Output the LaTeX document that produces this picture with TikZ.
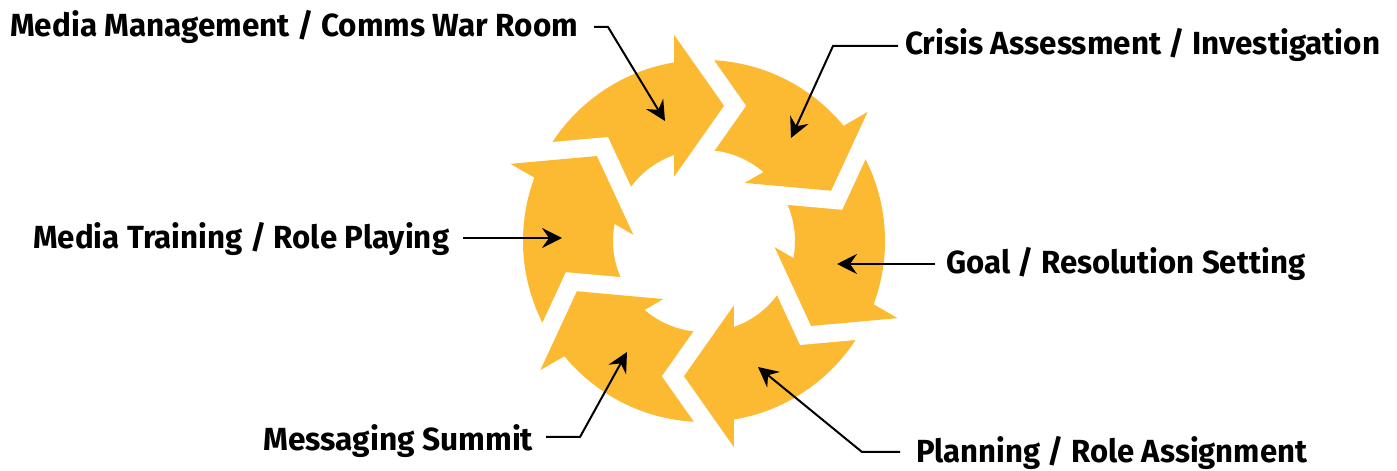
\documentclass[tikz,border=0pt]{standalone}
\usepackage{fontspec}
\setmainfont{Fira Sans}
\usetikzlibrary{calc,arrows.meta}
\definecolor{yc}{RGB}{251,186,50}
\newcommand\fitw[2]{\resizebox{#1pt}{\height}{#2}}
\begin{document}
\begin{tikzpicture}[x=1pt,y=1pt,
  lbl/.style={inner sep=0pt, font=\fontsize{32}{36}\selectfont\bfseries},
  lead/.style={line width=2pt, -{Stealth[length=20pt,width=20pt,inset=7pt]}}]
\useasboundingbox (0,0) rectangle (1397,471);
\coordinate (O) at (704,230);
\fill[yc, even odd rule] (O) circle[radius=181pt] (O) circle[radius=91pt];
\foreach \k in {0,...,5}{
  \pgfmathsetmacro\ph{102.5-60*\k}
  \pgfmathsetmacro\dd{\ph-102.5}
  \pgfmathsetmacro\ee{\ph-12.5}
  \coordinate (M\k) at ($(O)+(\ph:138.5)$);
  \coordinate (T\k) at ($(M\k)+(\dd:50)$);
  \coordinate (OB\k) at ($(M\k)+(\ee:71)$);
  \coordinate (IB\k) at ($(M\k)+(\ee+180:71)$);
  \begin{scope}
    \clip ($(M\k)+(\dd:3)+(\ee:300)$) -- ($(M\k)+(\dd:3)+(\ee+180:300)$) -- ++(\dd:300) -- ++(\ee:600) -- cycle;
    \fill[white] ($(M\k)+(\dd+180:28)+(\ee:142)$) -- ($(M\k)+(\dd:72)$) -- ($(M\k)+(\dd+180:28)+(\ee+180:142)$) -- cycle;
  \end{scope}
}
\foreach \k in {0,...,5}{\fill[yc] (OB\k) -- (T\k) -- (IB\k) -- cycle;}

\node[lbl, anchor=base west] (l1) at (10,434) {\fitw{568}{Media Management / Comms War Room}};
\node[lbl, anchor=base west] (l2) at (905,416) {\fitw{475}{Crisis Assessment / Investigation}};
\node[lbl, anchor=base west] (l3) at (946,197) {\fitw{359}{Goal / Resolution Setting}};
\node[lbl, anchor=base west] (l4) at (916,8) {\fitw{391}{Planning / Role Assignment}};
\node[lbl, anchor=base west] (l5) at (263,20) {\fitw{270}{Messaging Summit}};
\node[lbl, anchor=base west] (l6) at (33,222) {\fitw{416}{Media Training / Role Playing}};

\coordinate (s1) at (594,444); \coordinate (b1) at (608,444); \coordinate (t1) at (665,350);
\coordinate (s2) at (898,425); \coordinate (b2) at (833,425); \coordinate (t2) at (791,333);
\coordinate (s3) at (935,207); \coordinate (t3) at (837,207);
\coordinate (s4) at (900,19);  \coordinate (b4) at (862,19);  \coordinate (t4) at (758,104);
\coordinate (s5) at (546,34);  \coordinate (b5) at (580,34);  \coordinate (t5) at (627,119);
\coordinate (s6) at (463,233); \coordinate (t6) at (562,233);
\draw[lead] (s1) -- (b1) -- (t1);
\draw[lead] (s2) -- (b2) -- (t2);
\draw[lead] (s3) -- (t3);
\draw[lead] (s4) -- (b4) -- (t4);
\draw[lead] (s5) -- (b5) -- (t5);
\draw[lead] (s6) -- (t6);
\end{tikzpicture}
\end{document}
